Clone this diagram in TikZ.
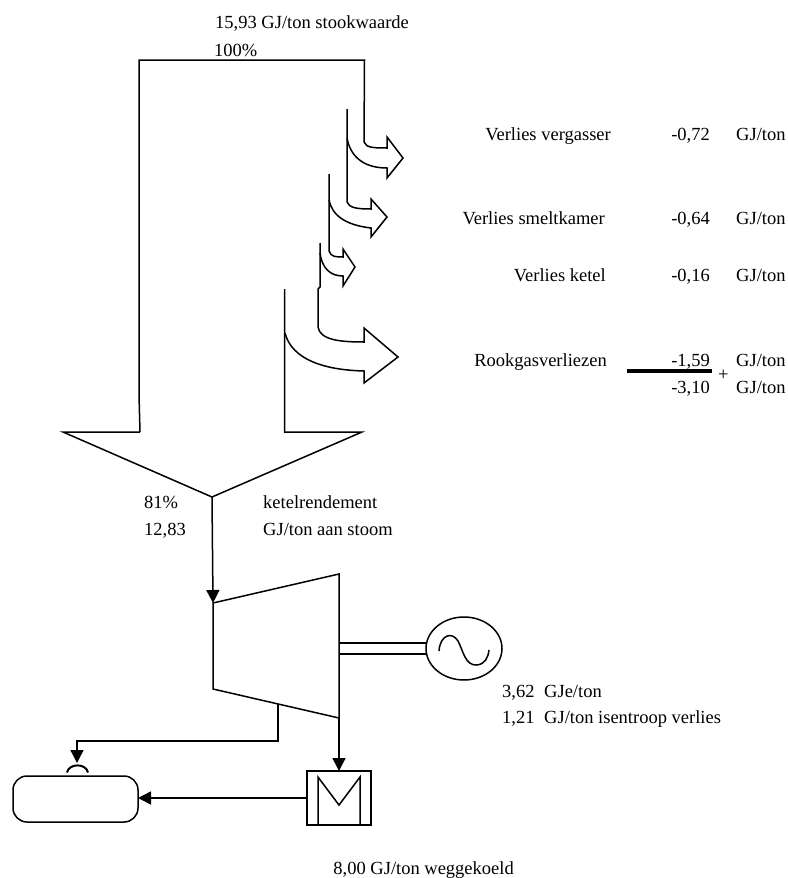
\documentclass[tikz,border=0pt]{standalone}
\usepackage{fontspec}
\setmainfont{Liberation Serif}
\usepackage{tikz}
\usetikzlibrary{shapes.geometric, positioning, arrows.meta, calc}

\begin{document}
\begin{tikzpicture}[x=1pt, y=-1pt,
  label west/.style={anchor=base west, inner sep=0pt, font=\fontsize{18.5}{21}\selectfont},
  label east/.style={anchor=base east, inner sep=0pt, font=\fontsize{18.5}{21}\selectfont},
  band/.style={line width=1.5pt, line join=miter},
  flow/.style={line width=1.5pt, -{Triangle[length=13pt, width=13pt]}},
  plain/.style={line width=1.5pt},
  generator/.style={ellipse, draw, line width=1.5pt, minimum width=76pt, minimum height=63pt, inner sep=0pt, outer sep=0pt},
  condenser/.style={rectangle, draw, line width=1.5pt, minimum width=64pt, minimum height=54pt, inner sep=0pt, outer sep=0pt},
  vessel/.style={rectangle, rounded corners=14pt, draw, line width=1.5pt, minimum width=125pt, minimum height=46pt, inner sep=0pt, outer sep=0pt}
]
  \useasboundingbox (0,0) rectangle (787,878);

  % big band with the losses
  \coordinate (tip) at (212,497);
  \draw[band] (140,432) -- (139,395) -- (139,60) -- (364.5,60) -- (364,142)
    .. controls (366,148) and (375,148) .. (387,148) -- (387,137) -- (403,158) -- (387,178) -- (387,168)
    .. controls (362,168) and (350,155) .. (347,138);
  \draw[band] (347,109) -- (347,202)
    .. controls (349,208) and (358,209) .. (371,209) -- (371,199) -- (387,217) -- (371,237) -- (371,228)
    .. controls (345,225) and (332,215) .. (329,200);
  \draw[band] (329,174) -- (329,251)
    .. controls (331,257) and (336,257) .. (343,257) -- (343,249) -- (355,267) -- (343,286) -- (343,276)
    .. controls (330,276) and (322,268) .. (320,253);
  \draw[band] (320,243) -- (320,287) -- (318,289) -- (318,327)
    .. controls (320,340) and (340,342) .. (364,342) -- (364,328) -- (398,357) -- (364,383) -- (364,371)
    .. controls (325,370) and (292,360) .. (285,333);
  \draw[band] (284.5,289) -- (284.5,432) -- (362,432) -- (tip) -- (63,432) -- (140,432);

  % turbine
  \coordinate (t1) at (213,603);
  \coordinate (t2) at (339,574);
  \coordinate (t3) at (339,718);
  \coordinate (t4) at (213,689);
  \coordinate (bleed) at (278,704);
  \draw[plain] (t1) -- (t2) -- (t3) -- (t4) -- cycle;

  % generator, condenser, vessel
  \node[generator] (gen) at (464,648.5) {};
  \node[condenser] (cond) at (339,798) {};
  \node[vessel] (tank) at (75.5,799) {};
  \draw[plain] (439,651) .. controls (440,635) and (452,631) .. (458,641)
    .. controls (463,650) and (465,666) .. (477,665) .. controls (485,664) and (488,658) .. (489,650);
  \draw[plain] (318,825) -- (318,777) -- (339,805) -- (360,777) -- (360,825);
  \draw[plain] (339,643) -- (gen.west |- 0,643);
  \draw[plain] (339,654) -- (gen.west |- 0,654);

  % feed to the tank
  \coordinate (inlet) at (77,763);
  \draw[line width=2pt] (67,772.5) .. controls (69,763) and (86,763) .. (88,772.5);

  \draw[flow] (tip) -- (t1);
  \draw[flow] (t3) -- (cond.north);
  \draw[flow] (cond.west) -- (tank.east |- cond.west);
  \draw[flow] (bleed) -- (278,741) -- (77,741) -- (inlet);

  % texts
  \node[label west] (fuel) at (215,28) {15,93 GJ/ton stookwaarde};
  \node[label west] (pct) at (214,56) {100\%};

  \node[label east] (l1) at (611,140) {Verlies vergasser};
  \node[label east] (v1) at (710,140) {-0,72};
  \node[label west] (u1) at (736,140) {GJ/ton};
  \node[label east] (l2) at (605,224) {Verlies smeltkamer};
  \node[label east] (v2) at (710,224) {-0,64};
  \node[label west] (u2) at (736,224) {GJ/ton};
  \node[label east] (l3) at (606,281) {Verlies ketel};
  \node[label east] (v3) at (710,281) {-0,16};
  \node[label west] (u3) at (736,281) {GJ/ton};
  \node[label east] (l4) at (607,366) {Rookgasverliezen};
  \node[label east] (v4) at (710,366) {-1,59};
  \node[label west] (u4) at (736,366) {GJ/ton};
  \node[label east] (v5) at (710,393) {-3,10};
  \node[label west] (u5) at (736,393) {GJ/ton};
  \coordinate (sumL) at (627,371);
  \coordinate (sumR) at (712,371);
  \draw[line width=4pt] (sumL) -- (sumR);
  \node[label west] (plus) at (718,380) {+};

  \node[label west] (eff) at (144,508) {81\%};
  \node[label west] (steam) at (144,535) {12,83};
  \node[label west] (effname) at (263,508) {ketelrendement};
  \node[label west] (steamname) at (263,535) {GJ/ton aan stoom};

  \node[label west] (el) at (502,697) {3,62};
  \node[label west] (elname) at (544,697) {GJe/ton};
  \node[label west] (isen) at (502,723) {1,21};
  \node[label west] (isenname) at (544,723) {GJ/ton isentroop verlies};
  \node[label east] (cool) at (514,874) {8,00 GJ/ton weggekoeld};
\end{tikzpicture}
\end{document}
